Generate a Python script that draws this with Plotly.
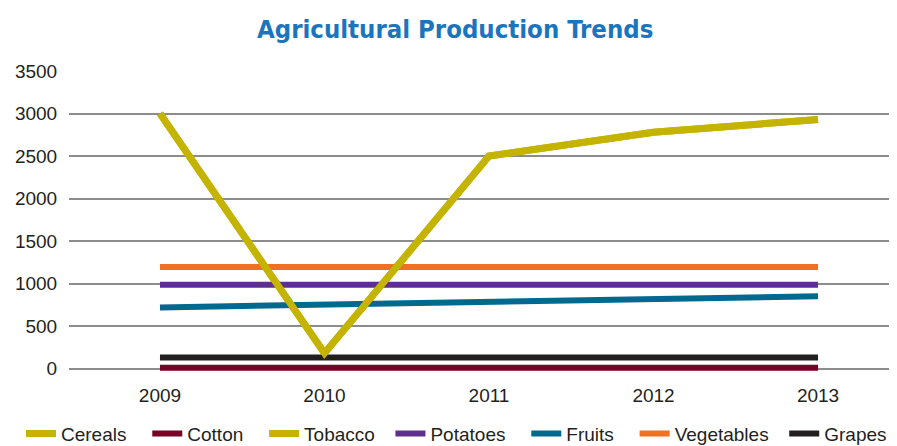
import plotly.graph_objects as go

years = [2009, 2010, 2011, 2012, 2013]
cereals = [3000, 180, 2500, 2780, 2930]
cotton = [10, 10, 10, 10, 10]
tobacco = [3000, 180, 2500, 2780, 2930]
potatoes = [985, 985, 985, 985, 985]
fruits = [720, 750, 780, 815, 850]
vegetables = [1195, 1195, 1195, 1195, 1195]
grapes = [130, 130, 130, 130, 130]
y_ticks = [0, 500, 1000, 1500, 2000, 2500, 3000, 3500]

NB = "\u00a0"
series = [
    ("Cotton", cotton, "#7A0026", 6, 2, 3),
    ("Tobacco", tobacco, "#C4B400", 7, 3, 2),
    ("Potatoes", potatoes, "#5E2F8F", 6, 4, 3),
    ("Fruits", fruits, "#006A8E", 6, 5, 3),
    ("Vegetables", vegetables, "#F37021", 6, 6, 2),
    ("Grapes", grapes, "#231F20", 6, 7, 0),
    ("Cereals", cereals, "#C4B400", 7, 1, 3),
]

fig = go.Figure()
for name, vals, color, w, rank, pad in series:
    fig.add_trace(go.Scatter(
        x=years, y=vals, name=name + NB * pad, mode="lines",
        line=dict(color=color, width=w),
        legendrank=rank,
    ))

# page body adds an 8px offset, so the figure is 889x438 and sits at (8, 8)
fig.update_layout(
    width=889, height=438,
    margin=dict(l=61, r=0, t=63, b=74, autoexpand=False),
    paper_bgcolor="white", plot_bgcolor="white",
    title=dict(
        text="<b>Agricultural Production Trends</b>",
        x=0.503, xanchor="center", y=0.952, yanchor="middle",
        font=dict(family="Liberation Sans Narrow, DejaVu Sans Condensed, Arial Narrow", size=25.5, color="#1B75BC"),
    ),
    font=dict(family="Liberation Sans, Arial", size=19, color="#231F20"),
    showlegend=True,
    legend=dict(
        orientation="h", x=-0.058, xanchor="left", y=-0.142, yanchor="top",
        font=dict(size=19, color="#231F20"),
        bgcolor="rgba(0,0,0,0)",
    ),
    xaxis=dict(
        range=[2008.447, 2013.48],
        tickvals=years, ticktext=[str(y) for y in years],
        showgrid=False, zeroline=False, showline=False,
        ticks="outside", ticklen=6, tickcolor="rgba(0,0,0,0)",
        tickfont=dict(size=19),
    ),
    yaxis=dict(
        range=[-40, 3500],
        tickvals=y_ticks,
        showgrid=True, gridcolor="#8C8C8C", gridwidth=2,
        zeroline=False, showline=False,
        ticks="outside", ticklen=7, tickcolor="rgba(0,0,0,0)",
        tickfont=dict(size=19),
    ),
)

fig.write_html("out.html")
